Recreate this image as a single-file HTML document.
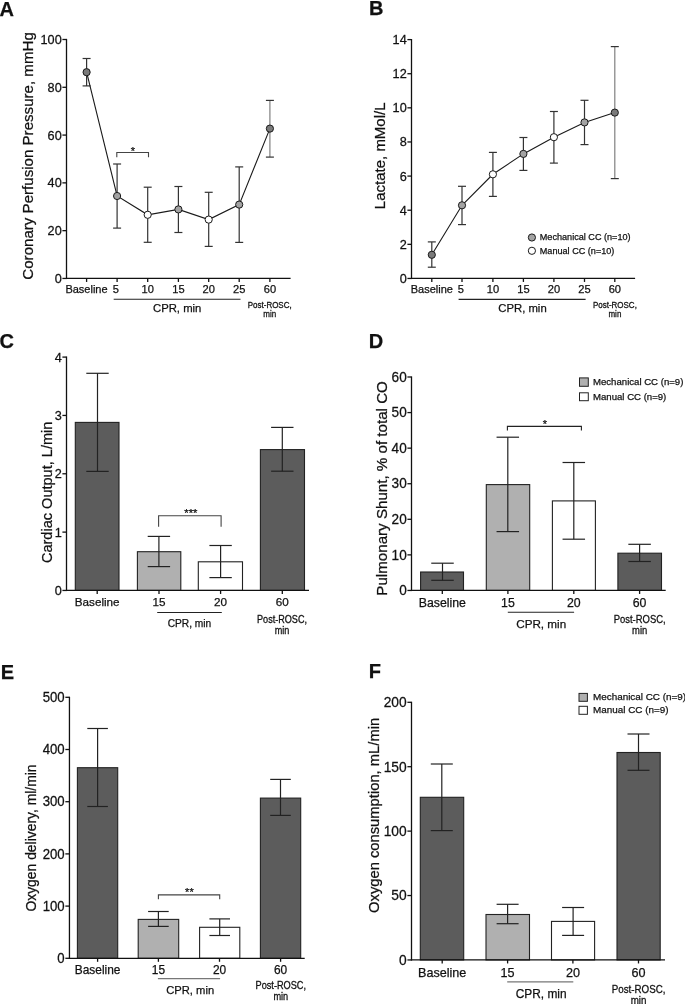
<!DOCTYPE html>
<html><head><meta charset="utf-8"><style>
html,body{margin:0;padding:0;background:#fff;}
body{width:685px;height:1004px;overflow:hidden;}
svg{display:block;will-change:transform;}
text{font-family:"Liberation Sans", sans-serif;fill:#111;stroke:#111;stroke-width:0.25px;}
</style></head><body>
<svg width="685" height="1004" viewBox="0 0 685 1004">
<rect width="685" height="1004" fill="#fff"/>
<text x="-0.50" y="15.80" font-size="20" text-anchor="start" font-weight="bold">A</text>
<line x1="66.50" y1="38.90" x2="66.50" y2="279.05" stroke="#111" stroke-width="1.3"/>
<line x1="62.40" y1="278.45" x2="66.50" y2="278.45" stroke="#111" stroke-width="1.3"/>
<text transform="translate(61.70 282.89) scale(1 1.05)" font-size="12.7" text-anchor="end">0</text>
<line x1="62.40" y1="230.66" x2="66.50" y2="230.66" stroke="#111" stroke-width="1.3"/>
<text transform="translate(61.70 235.10) scale(1 1.05)" font-size="12.7" text-anchor="end">20</text>
<line x1="62.40" y1="182.87" x2="66.50" y2="182.87" stroke="#111" stroke-width="1.3"/>
<text transform="translate(61.70 187.31) scale(1 1.05)" font-size="12.7" text-anchor="end">40</text>
<line x1="62.40" y1="135.08" x2="66.50" y2="135.08" stroke="#111" stroke-width="1.3"/>
<text transform="translate(61.70 139.52) scale(1 1.05)" font-size="12.7" text-anchor="end">60</text>
<line x1="62.40" y1="87.29" x2="66.50" y2="87.29" stroke="#111" stroke-width="1.3"/>
<text transform="translate(61.70 91.73) scale(1 1.05)" font-size="12.7" text-anchor="end">80</text>
<line x1="62.40" y1="39.50" x2="66.50" y2="39.50" stroke="#111" stroke-width="1.3"/>
<text transform="translate(61.70 43.95) scale(1 1.05)" font-size="12.7" text-anchor="end">100</text>
<line x1="65.90" y1="278.45" x2="290.60" y2="278.45" stroke="#111" stroke-width="1.3"/>
<line x1="86.60" y1="278.45" x2="86.60" y2="281.95" stroke="#111" stroke-width="1.3"/>
<line x1="117.10" y1="278.45" x2="117.10" y2="281.95" stroke="#111" stroke-width="1.3"/>
<line x1="147.70" y1="278.45" x2="147.70" y2="281.95" stroke="#111" stroke-width="1.3"/>
<line x1="178.40" y1="278.45" x2="178.40" y2="281.95" stroke="#111" stroke-width="1.3"/>
<line x1="208.70" y1="278.45" x2="208.70" y2="281.95" stroke="#111" stroke-width="1.3"/>
<line x1="239.20" y1="278.45" x2="239.20" y2="281.95" stroke="#111" stroke-width="1.3"/>
<line x1="269.90" y1="278.45" x2="269.90" y2="281.95" stroke="#111" stroke-width="1.3"/>
<line x1="86.60" y1="58.50" x2="86.60" y2="85.90" stroke="#333" stroke-width="1.2"/>
<line x1="82.60" y1="58.50" x2="90.60" y2="58.50" stroke="#333" stroke-width="1.2"/>
<line x1="82.60" y1="85.90" x2="90.60" y2="85.90" stroke="#333" stroke-width="1.2"/>
<line x1="117.10" y1="164.00" x2="117.10" y2="228.10" stroke="#333" stroke-width="1.2"/>
<line x1="113.10" y1="164.00" x2="121.10" y2="164.00" stroke="#333" stroke-width="1.2"/>
<line x1="113.10" y1="228.10" x2="121.10" y2="228.10" stroke="#333" stroke-width="1.2"/>
<line x1="147.70" y1="187.20" x2="147.70" y2="242.30" stroke="#333" stroke-width="1.2"/>
<line x1="143.70" y1="187.20" x2="151.70" y2="187.20" stroke="#333" stroke-width="1.2"/>
<line x1="143.70" y1="242.30" x2="151.70" y2="242.30" stroke="#333" stroke-width="1.2"/>
<line x1="178.40" y1="186.50" x2="178.40" y2="232.50" stroke="#333" stroke-width="1.2"/>
<line x1="174.40" y1="186.50" x2="182.40" y2="186.50" stroke="#333" stroke-width="1.2"/>
<line x1="174.40" y1="232.50" x2="182.40" y2="232.50" stroke="#333" stroke-width="1.2"/>
<line x1="208.70" y1="192.30" x2="208.70" y2="246.40" stroke="#333" stroke-width="1.2"/>
<line x1="204.70" y1="192.30" x2="212.70" y2="192.30" stroke="#333" stroke-width="1.2"/>
<line x1="204.70" y1="246.40" x2="212.70" y2="246.40" stroke="#333" stroke-width="1.2"/>
<line x1="239.20" y1="166.90" x2="239.20" y2="242.40" stroke="#333" stroke-width="1.2"/>
<line x1="235.20" y1="166.90" x2="243.20" y2="166.90" stroke="#333" stroke-width="1.2"/>
<line x1="235.20" y1="242.40" x2="243.20" y2="242.40" stroke="#333" stroke-width="1.2"/>
<line x1="269.90" y1="100.40" x2="269.90" y2="157.10" stroke="#808080" stroke-width="1.2"/>
<line x1="265.90" y1="100.40" x2="273.90" y2="100.40" stroke="#333" stroke-width="1.2"/>
<line x1="265.90" y1="157.10" x2="273.90" y2="157.10" stroke="#333" stroke-width="1.2"/>
<polyline points="86.60,72.20 117.10,196.00 147.70,214.80 178.40,209.40 208.70,219.60 239.20,204.60 269.90,128.60" fill="none" stroke="#1a1a1a" stroke-width="1.1"/>
<circle cx="86.60" cy="72.20" r="3.6" fill="#7a7a7a" stroke="#1a1a1a" stroke-width="1"/>
<circle cx="117.10" cy="196.00" r="3.6" fill="#a3a3a3" stroke="#1a1a1a" stroke-width="1"/>
<circle cx="147.70" cy="214.80" r="3.6" fill="#fff" stroke="#1a1a1a" stroke-width="1"/>
<circle cx="178.40" cy="209.40" r="3.6" fill="#a3a3a3" stroke="#1a1a1a" stroke-width="1"/>
<circle cx="208.70" cy="219.60" r="3.6" fill="#fff" stroke="#1a1a1a" stroke-width="1"/>
<circle cx="239.20" cy="204.60" r="3.6" fill="#a3a3a3" stroke="#1a1a1a" stroke-width="1"/>
<circle cx="269.90" cy="128.60" r="3.6" fill="#7a7a7a" stroke="#1a1a1a" stroke-width="1"/>
<polyline points="116.80,157.30 116.80,152.50 148.50,152.50 148.50,157.30" fill="none" stroke="#444" stroke-width="1.1"/>
<text x="132.80" y="154.50" font-size="11" text-anchor="middle">*</text>
<text x="86.50" y="292.90" font-size="11" text-anchor="middle">Baseline</text>
<text x="115.90" y="292.90" font-size="11.1" text-anchor="middle">5</text>
<text x="147.70" y="292.90" font-size="11.1" text-anchor="middle">10</text>
<text x="178.40" y="292.90" font-size="11.1" text-anchor="middle">15</text>
<text x="208.70" y="292.90" font-size="11.1" text-anchor="middle">20</text>
<text x="239.20" y="292.90" font-size="11.1" text-anchor="middle">25</text>
<text x="269.90" y="292.90" font-size="11.1" text-anchor="middle">60</text>
<line x1="113.70" y1="299.20" x2="240.50" y2="299.20" stroke="#222" stroke-width="1.1"/>
<text x="177.20" y="311.60" font-size="11.3" text-anchor="middle">CPR, min</text>
<text transform="translate(269.70 308.30) scale(1 1.13)" font-size="8" text-anchor="middle">Post-ROSC,</text>
<text transform="translate(269.70 316.90) scale(1 1.13)" font-size="8" text-anchor="middle">min</text>
<text transform="translate(33.00 155.95) rotate(-90)" font-size="15.1" text-anchor="middle">Coronary Perfusion Pressure, mmHg</text>
<text x="369.00" y="14.80" font-size="20" text-anchor="start" font-weight="bold">B</text>
<line x1="411.50" y1="39.00" x2="411.50" y2="279.05" stroke="#111" stroke-width="1.3"/>
<line x1="407.40" y1="278.45" x2="411.50" y2="278.45" stroke="#111" stroke-width="1.3"/>
<text transform="translate(406.70 282.89) scale(1 1.05)" font-size="12.7" text-anchor="end">0</text>
<line x1="407.40" y1="244.33" x2="411.50" y2="244.33" stroke="#111" stroke-width="1.3"/>
<text transform="translate(406.70 248.77) scale(1 1.05)" font-size="12.7" text-anchor="end">2</text>
<line x1="407.40" y1="210.21" x2="411.50" y2="210.21" stroke="#111" stroke-width="1.3"/>
<text transform="translate(406.70 214.65) scale(1 1.05)" font-size="12.7" text-anchor="end">4</text>
<line x1="407.40" y1="176.09" x2="411.50" y2="176.09" stroke="#111" stroke-width="1.3"/>
<text transform="translate(406.70 180.53) scale(1 1.05)" font-size="12.7" text-anchor="end">6</text>
<line x1="407.40" y1="141.96" x2="411.50" y2="141.96" stroke="#111" stroke-width="1.3"/>
<text transform="translate(406.70 146.41) scale(1 1.05)" font-size="12.7" text-anchor="end">8</text>
<line x1="407.40" y1="107.84" x2="411.50" y2="107.84" stroke="#111" stroke-width="1.3"/>
<text transform="translate(406.70 112.29) scale(1 1.05)" font-size="12.7" text-anchor="end">10</text>
<line x1="407.40" y1="73.72" x2="411.50" y2="73.72" stroke="#111" stroke-width="1.3"/>
<text transform="translate(406.70 78.17) scale(1 1.05)" font-size="12.7" text-anchor="end">12</text>
<line x1="407.40" y1="39.60" x2="411.50" y2="39.60" stroke="#111" stroke-width="1.3"/>
<text transform="translate(406.70 44.04) scale(1 1.05)" font-size="12.7" text-anchor="end">14</text>
<line x1="410.90" y1="278.45" x2="635.10" y2="278.45" stroke="#111" stroke-width="1.3"/>
<line x1="431.80" y1="278.45" x2="431.80" y2="281.95" stroke="#111" stroke-width="1.3"/>
<line x1="462.00" y1="278.45" x2="462.00" y2="281.95" stroke="#111" stroke-width="1.3"/>
<line x1="492.90" y1="278.45" x2="492.90" y2="281.95" stroke="#111" stroke-width="1.3"/>
<line x1="523.40" y1="278.45" x2="523.40" y2="281.95" stroke="#111" stroke-width="1.3"/>
<line x1="553.90" y1="278.45" x2="553.90" y2="281.95" stroke="#111" stroke-width="1.3"/>
<line x1="584.50" y1="278.45" x2="584.50" y2="281.95" stroke="#111" stroke-width="1.3"/>
<line x1="614.80" y1="278.45" x2="614.80" y2="281.95" stroke="#111" stroke-width="1.3"/>
<line x1="431.80" y1="241.90" x2="431.80" y2="267.20" stroke="#333" stroke-width="1.2"/>
<line x1="427.80" y1="241.90" x2="435.80" y2="241.90" stroke="#333" stroke-width="1.2"/>
<line x1="427.80" y1="267.20" x2="435.80" y2="267.20" stroke="#333" stroke-width="1.2"/>
<line x1="462.00" y1="186.30" x2="462.00" y2="224.60" stroke="#333" stroke-width="1.2"/>
<line x1="458.00" y1="186.30" x2="466.00" y2="186.30" stroke="#333" stroke-width="1.2"/>
<line x1="458.00" y1="224.60" x2="466.00" y2="224.60" stroke="#333" stroke-width="1.2"/>
<line x1="492.90" y1="152.40" x2="492.90" y2="196.40" stroke="#333" stroke-width="1.2"/>
<line x1="488.90" y1="152.40" x2="496.90" y2="152.40" stroke="#333" stroke-width="1.2"/>
<line x1="488.90" y1="196.40" x2="496.90" y2="196.40" stroke="#333" stroke-width="1.2"/>
<line x1="523.40" y1="137.50" x2="523.40" y2="170.40" stroke="#333" stroke-width="1.2"/>
<line x1="519.40" y1="137.50" x2="527.40" y2="137.50" stroke="#333" stroke-width="1.2"/>
<line x1="519.40" y1="170.40" x2="527.40" y2="170.40" stroke="#333" stroke-width="1.2"/>
<line x1="553.90" y1="111.50" x2="553.90" y2="163.10" stroke="#333" stroke-width="1.2"/>
<line x1="549.90" y1="111.50" x2="557.90" y2="111.50" stroke="#333" stroke-width="1.2"/>
<line x1="549.90" y1="163.10" x2="557.90" y2="163.10" stroke="#333" stroke-width="1.2"/>
<line x1="584.50" y1="100.30" x2="584.50" y2="144.60" stroke="#333" stroke-width="1.2"/>
<line x1="580.50" y1="100.30" x2="588.50" y2="100.30" stroke="#333" stroke-width="1.2"/>
<line x1="580.50" y1="144.60" x2="588.50" y2="144.60" stroke="#333" stroke-width="1.2"/>
<line x1="614.80" y1="46.60" x2="614.80" y2="178.60" stroke="#808080" stroke-width="1.2"/>
<line x1="610.80" y1="46.60" x2="618.80" y2="46.60" stroke="#333" stroke-width="1.2"/>
<line x1="610.80" y1="178.60" x2="618.80" y2="178.60" stroke="#333" stroke-width="1.2"/>
<polyline points="431.80,254.80 462.00,205.30 492.90,174.30 523.40,153.90 553.90,137.20 584.50,122.40 614.80,112.60" fill="none" stroke="#1a1a1a" stroke-width="1.1"/>
<circle cx="431.80" cy="254.80" r="3.6" fill="#7a7a7a" stroke="#1a1a1a" stroke-width="1"/>
<circle cx="462.00" cy="205.30" r="3.6" fill="#a3a3a3" stroke="#1a1a1a" stroke-width="1"/>
<circle cx="492.90" cy="174.30" r="3.6" fill="#fff" stroke="#1a1a1a" stroke-width="1"/>
<circle cx="523.40" cy="153.90" r="3.6" fill="#a3a3a3" stroke="#1a1a1a" stroke-width="1"/>
<circle cx="553.90" cy="137.20" r="3.6" fill="#fff" stroke="#1a1a1a" stroke-width="1"/>
<circle cx="584.50" cy="122.40" r="3.6" fill="#a3a3a3" stroke="#1a1a1a" stroke-width="1"/>
<circle cx="614.80" cy="112.60" r="3.6" fill="#7a7a7a" stroke="#1a1a1a" stroke-width="1"/>
<text x="431.80" y="292.90" font-size="11" text-anchor="middle">Baseline</text>
<text x="460.80" y="292.90" font-size="11.1" text-anchor="middle">5</text>
<text x="492.90" y="292.90" font-size="11.1" text-anchor="middle">10</text>
<text x="523.40" y="292.90" font-size="11.1" text-anchor="middle">15</text>
<text x="553.90" y="292.90" font-size="11.1" text-anchor="middle">20</text>
<text x="584.50" y="292.90" font-size="11.1" text-anchor="middle">25</text>
<text x="614.80" y="292.90" font-size="11.1" text-anchor="middle">60</text>
<line x1="458.60" y1="299.40" x2="585.60" y2="299.40" stroke="#222" stroke-width="1.1"/>
<text x="522.50" y="311.80" font-size="11.3" text-anchor="middle">CPR, min</text>
<text transform="translate(614.90 308.30) scale(1 1.13)" font-size="8" text-anchor="middle">Post-ROSC,</text>
<text transform="translate(614.90 316.90) scale(1 1.13)" font-size="8" text-anchor="middle">min</text>
<circle cx="531.90" cy="237.50" r="3.6" fill="#a3a3a3" stroke="#1a1a1a" stroke-width="1"/>
<circle cx="531.90" cy="250.80" r="3.6" fill="#fff" stroke="#1a1a1a" stroke-width="1"/>
<text x="539.80" y="240.20" font-size="9.1" text-anchor="start">Mechanical CC (n=10)</text>
<text x="539.80" y="253.50" font-size="9.1" text-anchor="start">Manual CC (n=10)</text>
<text transform="translate(384.90 155.80) rotate(-90)" font-size="15" text-anchor="middle">Lactate, mMol/L</text>
<text x="-0.50" y="348.00" font-size="20" text-anchor="start" font-weight="bold">C</text>
<rect x="75.30" y="422.40" width="43.70" height="168.05" fill="#5c5c5c" stroke="#222" stroke-width="1.1"/>
<rect x="137.40" y="551.70" width="43.40" height="38.75" fill="#b0b0b0" stroke="#222" stroke-width="1.1"/>
<rect x="198.30" y="561.80" width="44.20" height="28.65" fill="#fff" stroke="#222" stroke-width="1.1"/>
<rect x="260.40" y="449.60" width="44.10" height="140.85" fill="#5c5c5c" stroke="#222" stroke-width="1.1"/>
<line x1="97.50" y1="373.30" x2="97.50" y2="471.40" stroke="#222" stroke-width="1.2"/>
<line x1="86.30" y1="373.30" x2="108.70" y2="373.30" stroke="#222" stroke-width="1.2"/>
<line x1="86.30" y1="471.40" x2="108.70" y2="471.40" stroke="#222" stroke-width="1.2"/>
<line x1="158.90" y1="536.40" x2="158.90" y2="566.60" stroke="#222" stroke-width="1.2"/>
<line x1="147.70" y1="536.40" x2="170.10" y2="536.40" stroke="#222" stroke-width="1.2"/>
<line x1="147.70" y1="566.60" x2="170.10" y2="566.60" stroke="#222" stroke-width="1.2"/>
<line x1="220.60" y1="545.50" x2="220.60" y2="577.60" stroke="#222" stroke-width="1.2"/>
<line x1="209.40" y1="545.50" x2="231.80" y2="545.50" stroke="#222" stroke-width="1.2"/>
<line x1="209.40" y1="577.60" x2="231.80" y2="577.60" stroke="#222" stroke-width="1.2"/>
<line x1="282.30" y1="427.40" x2="282.30" y2="471.20" stroke="#222" stroke-width="1.2"/>
<line x1="271.10" y1="427.40" x2="293.50" y2="427.40" stroke="#222" stroke-width="1.2"/>
<line x1="271.10" y1="471.20" x2="293.50" y2="471.20" stroke="#222" stroke-width="1.2"/>
<line x1="66.50" y1="356.50" x2="66.50" y2="591.05" stroke="#111" stroke-width="1.3"/>
<line x1="62.40" y1="590.45" x2="66.50" y2="590.45" stroke="#111" stroke-width="1.3"/>
<text transform="translate(61.70 594.90) scale(1 1.05)" font-size="12.7" text-anchor="end">0</text>
<line x1="62.40" y1="532.11" x2="66.50" y2="532.11" stroke="#111" stroke-width="1.3"/>
<text transform="translate(61.70 536.56) scale(1 1.05)" font-size="12.7" text-anchor="end">1</text>
<line x1="62.40" y1="473.78" x2="66.50" y2="473.78" stroke="#111" stroke-width="1.3"/>
<text transform="translate(61.70 478.22) scale(1 1.05)" font-size="12.7" text-anchor="end">2</text>
<line x1="62.40" y1="415.44" x2="66.50" y2="415.44" stroke="#111" stroke-width="1.3"/>
<text transform="translate(61.70 419.88) scale(1 1.05)" font-size="12.7" text-anchor="end">3</text>
<line x1="62.40" y1="357.10" x2="66.50" y2="357.10" stroke="#111" stroke-width="1.3"/>
<text transform="translate(61.70 361.55) scale(1 1.05)" font-size="12.7" text-anchor="end">4</text>
<line x1="65.90" y1="590.45" x2="309.00" y2="590.45" stroke="#111" stroke-width="1.3"/>
<line x1="97.20" y1="590.45" x2="97.20" y2="593.95" stroke="#111" stroke-width="1.3"/>
<line x1="159.00" y1="590.45" x2="159.00" y2="593.95" stroke="#111" stroke-width="1.3"/>
<line x1="220.60" y1="590.45" x2="220.60" y2="593.95" stroke="#111" stroke-width="1.3"/>
<line x1="282.30" y1="590.45" x2="282.30" y2="593.95" stroke="#111" stroke-width="1.3"/>
<polyline points="158.60,526.80 158.60,515.80 221.10,515.80 221.10,526.80" fill="none" stroke="#444" stroke-width="1.1"/>
<text x="190.90" y="516.90" font-size="11.3" text-anchor="middle">***</text>
<text x="97.20" y="606.40" font-size="11.7" text-anchor="middle">Baseline</text>
<text x="159.00" y="606.40" font-size="11.7" text-anchor="middle">15</text>
<text x="220.60" y="606.40" font-size="11.7" text-anchor="middle">20</text>
<text x="282.30" y="606.40" font-size="11.7" text-anchor="middle">60</text>
<line x1="157.20" y1="612.50" x2="221.80" y2="612.50" stroke="#222" stroke-width="1.1"/>
<text x="189.50" y="626.60" font-size="10.2" text-anchor="middle">CPR, min</text>
<text transform="translate(282.00 623.40) scale(1 1.13)" font-size="9.1" text-anchor="middle">Post-ROSC,</text>
<text transform="translate(282.00 633.80) scale(1 1.13)" font-size="9.1" text-anchor="middle">min</text>
<text transform="translate(51.60 492.35) rotate(-90)" font-size="14.56" text-anchor="middle">Cardiac Output, L/min</text>
<text x="368.80" y="347.80" font-size="20" text-anchor="start" font-weight="bold">D</text>
<rect x="420.60" y="572.00" width="42.90" height="18.45" fill="#5c5c5c" stroke="#222" stroke-width="1.1"/>
<rect x="486.30" y="484.60" width="43.40" height="105.85" fill="#b0b0b0" stroke="#222" stroke-width="1.1"/>
<rect x="552.40" y="500.90" width="43.00" height="89.55" fill="#fff" stroke="#222" stroke-width="1.1"/>
<rect x="617.90" y="553.20" width="43.60" height="37.25" fill="#5c5c5c" stroke="#222" stroke-width="1.1"/>
<line x1="442.50" y1="563.20" x2="442.50" y2="580.30" stroke="#222" stroke-width="1.2"/>
<line x1="431.25" y1="563.20" x2="453.75" y2="563.20" stroke="#222" stroke-width="1.2"/>
<line x1="431.25" y1="580.30" x2="453.75" y2="580.30" stroke="#222" stroke-width="1.2"/>
<line x1="507.80" y1="437.20" x2="507.80" y2="531.60" stroke="#222" stroke-width="1.2"/>
<line x1="496.55" y1="437.20" x2="519.05" y2="437.20" stroke="#222" stroke-width="1.2"/>
<line x1="496.55" y1="531.60" x2="519.05" y2="531.60" stroke="#222" stroke-width="1.2"/>
<line x1="573.80" y1="462.50" x2="573.80" y2="539.20" stroke="#222" stroke-width="1.2"/>
<line x1="562.55" y1="462.50" x2="585.05" y2="462.50" stroke="#222" stroke-width="1.2"/>
<line x1="562.55" y1="539.20" x2="585.05" y2="539.20" stroke="#222" stroke-width="1.2"/>
<line x1="639.60" y1="544.30" x2="639.60" y2="561.50" stroke="#222" stroke-width="1.2"/>
<line x1="628.35" y1="544.30" x2="650.85" y2="544.30" stroke="#222" stroke-width="1.2"/>
<line x1="628.35" y1="561.50" x2="650.85" y2="561.50" stroke="#222" stroke-width="1.2"/>
<line x1="411.50" y1="376.40" x2="411.50" y2="591.05" stroke="#111" stroke-width="1.3"/>
<line x1="407.40" y1="590.45" x2="411.50" y2="590.45" stroke="#111" stroke-width="1.3"/>
<text transform="translate(406.70 595.21) scale(1 1.05)" font-size="13.6" text-anchor="end">0</text>
<line x1="407.40" y1="554.88" x2="411.50" y2="554.88" stroke="#111" stroke-width="1.3"/>
<text transform="translate(406.70 559.63) scale(1 1.05)" font-size="13.6" text-anchor="end">10</text>
<line x1="407.40" y1="519.30" x2="411.50" y2="519.30" stroke="#111" stroke-width="1.3"/>
<text transform="translate(406.70 524.06) scale(1 1.05)" font-size="13.6" text-anchor="end">20</text>
<line x1="407.40" y1="483.73" x2="411.50" y2="483.73" stroke="#111" stroke-width="1.3"/>
<text transform="translate(406.70 488.49) scale(1 1.05)" font-size="13.6" text-anchor="end">30</text>
<line x1="407.40" y1="448.15" x2="411.50" y2="448.15" stroke="#111" stroke-width="1.3"/>
<text transform="translate(406.70 452.91) scale(1 1.05)" font-size="13.6" text-anchor="end">40</text>
<line x1="407.40" y1="412.58" x2="411.50" y2="412.58" stroke="#111" stroke-width="1.3"/>
<text transform="translate(406.70 417.34) scale(1 1.05)" font-size="13.6" text-anchor="end">50</text>
<line x1="407.40" y1="377.00" x2="411.50" y2="377.00" stroke="#111" stroke-width="1.3"/>
<text transform="translate(406.70 381.76) scale(1 1.05)" font-size="13.6" text-anchor="end">60</text>
<line x1="410.90" y1="590.45" x2="665.70" y2="590.45" stroke="#111" stroke-width="1.3"/>
<line x1="442.30" y1="590.45" x2="442.30" y2="593.95" stroke="#111" stroke-width="1.3"/>
<line x1="507.90" y1="590.45" x2="507.90" y2="593.95" stroke="#111" stroke-width="1.3"/>
<line x1="573.80" y1="590.45" x2="573.80" y2="593.95" stroke="#111" stroke-width="1.3"/>
<line x1="639.60" y1="590.45" x2="639.60" y2="593.95" stroke="#111" stroke-width="1.3"/>
<polyline points="507.40,430.60 507.40,426.40 581.40,426.40 581.40,430.60" fill="none" stroke="#222" stroke-width="1.1"/>
<text x="545.00" y="427.70" font-size="11" text-anchor="middle">*</text>
<text x="442.30" y="606.90" font-size="12.3" text-anchor="middle">Baseline</text>
<text x="507.90" y="606.90" font-size="12.3" text-anchor="middle">15</text>
<text x="573.80" y="606.90" font-size="12.3" text-anchor="middle">20</text>
<text x="639.60" y="606.90" font-size="12.3" text-anchor="middle">60</text>
<line x1="507.80" y1="612.30" x2="574.10" y2="612.30" stroke="#222" stroke-width="1.1"/>
<text x="541.20" y="627.60" font-size="11.7" text-anchor="middle">CPR, min</text>
<text transform="translate(639.70 622.80) scale(1 1.13)" font-size="9.45" text-anchor="middle">Post-ROSC,</text>
<text transform="translate(639.70 634.30) scale(1 1.13)" font-size="9.45" text-anchor="middle">min</text>
<rect x="579.50" y="377.90" width="8.80" height="8.40" fill="#b0b0b0" stroke="#222" stroke-width="1"/>
<rect x="579.50" y="392.80" width="8.80" height="7.90" fill="#fff" stroke="#222" stroke-width="1"/>
<text x="593.00" y="385.40" font-size="9.6" text-anchor="start">Mechanical CC (n=9)</text>
<text x="593.00" y="400.20" font-size="9.6" text-anchor="start">Manual CC (n=9)</text>
<text transform="translate(387.20 488.40) rotate(-90)" font-size="15.15" text-anchor="middle">Pulmonary Shunt, % of total CO</text>
<text x="0.80" y="678.50" font-size="20" text-anchor="start" font-weight="bold">E</text>
<rect x="77.40" y="767.70" width="40.30" height="190.60" fill="#5c5c5c" stroke="#222" stroke-width="1.1"/>
<rect x="138.20" y="919.40" width="40.50" height="38.90" fill="#b0b0b0" stroke="#222" stroke-width="1.1"/>
<rect x="199.60" y="927.30" width="40.20" height="31.00" fill="#fff" stroke="#222" stroke-width="1.1"/>
<rect x="260.40" y="798.10" width="40.30" height="160.20" fill="#5c5c5c" stroke="#222" stroke-width="1.1"/>
<line x1="97.60" y1="728.50" x2="97.60" y2="806.50" stroke="#222" stroke-width="1.2"/>
<line x1="87.30" y1="728.50" x2="107.90" y2="728.50" stroke="#222" stroke-width="1.2"/>
<line x1="87.30" y1="806.50" x2="107.90" y2="806.50" stroke="#222" stroke-width="1.2"/>
<line x1="158.40" y1="911.50" x2="158.40" y2="926.40" stroke="#222" stroke-width="1.2"/>
<line x1="148.10" y1="911.50" x2="168.70" y2="911.50" stroke="#222" stroke-width="1.2"/>
<line x1="148.10" y1="926.40" x2="168.70" y2="926.40" stroke="#222" stroke-width="1.2"/>
<line x1="219.70" y1="918.90" x2="219.70" y2="935.50" stroke="#222" stroke-width="1.2"/>
<line x1="209.40" y1="918.90" x2="230.00" y2="918.90" stroke="#222" stroke-width="1.2"/>
<line x1="209.40" y1="935.50" x2="230.00" y2="935.50" stroke="#222" stroke-width="1.2"/>
<line x1="280.50" y1="779.40" x2="280.50" y2="815.40" stroke="#222" stroke-width="1.2"/>
<line x1="270.20" y1="779.40" x2="290.80" y2="779.40" stroke="#222" stroke-width="1.2"/>
<line x1="270.20" y1="815.40" x2="290.80" y2="815.40" stroke="#222" stroke-width="1.2"/>
<line x1="69.45" y1="696.70" x2="69.45" y2="958.90" stroke="#111" stroke-width="1.3"/>
<line x1="65.35" y1="958.30" x2="69.45" y2="958.30" stroke="#111" stroke-width="1.3"/>
<text transform="translate(64.65 962.92) scale(1 1.05)" font-size="13.2" text-anchor="end">0</text>
<line x1="65.35" y1="906.10" x2="69.45" y2="906.10" stroke="#111" stroke-width="1.3"/>
<text transform="translate(64.65 910.72) scale(1 1.05)" font-size="13.2" text-anchor="end">100</text>
<line x1="65.35" y1="853.90" x2="69.45" y2="853.90" stroke="#111" stroke-width="1.3"/>
<text transform="translate(64.65 858.52) scale(1 1.05)" font-size="13.2" text-anchor="end">200</text>
<line x1="65.35" y1="801.70" x2="69.45" y2="801.70" stroke="#111" stroke-width="1.3"/>
<text transform="translate(64.65 806.32) scale(1 1.05)" font-size="13.2" text-anchor="end">300</text>
<line x1="65.35" y1="749.50" x2="69.45" y2="749.50" stroke="#111" stroke-width="1.3"/>
<text transform="translate(64.65 754.12) scale(1 1.05)" font-size="13.2" text-anchor="end">400</text>
<line x1="65.35" y1="697.30" x2="69.45" y2="697.30" stroke="#111" stroke-width="1.3"/>
<text transform="translate(64.65 701.92) scale(1 1.05)" font-size="13.2" text-anchor="end">500</text>
<line x1="68.85" y1="958.30" x2="304.70" y2="958.30" stroke="#111" stroke-width="1.3"/>
<line x1="97.60" y1="958.30" x2="97.60" y2="961.80" stroke="#111" stroke-width="1.3"/>
<line x1="158.40" y1="958.30" x2="158.40" y2="961.80" stroke="#111" stroke-width="1.3"/>
<line x1="219.50" y1="958.30" x2="219.50" y2="961.80" stroke="#111" stroke-width="1.3"/>
<line x1="280.60" y1="958.30" x2="280.60" y2="961.80" stroke="#111" stroke-width="1.3"/>
<polyline points="158.40,899.30 158.40,894.90 219.70,894.90 219.70,899.30" fill="none" stroke="#444" stroke-width="1.1"/>
<text x="189.40" y="895.70" font-size="11" text-anchor="middle">**</text>
<text x="97.60" y="974.40" font-size="11.9" text-anchor="middle">Baseline</text>
<text x="158.40" y="974.40" font-size="11.9" text-anchor="middle">15</text>
<text x="219.50" y="974.40" font-size="11.9" text-anchor="middle">20</text>
<text x="280.60" y="974.40" font-size="11.9" text-anchor="middle">60</text>
<line x1="157.90" y1="978.60" x2="220.10" y2="978.60" stroke="#777" stroke-width="1.3"/>
<text x="190.20" y="994.10" font-size="11.2" text-anchor="middle">CPR, min</text>
<text transform="translate(280.80 989.40) scale(1 1.13)" font-size="9.2" text-anchor="middle">Post-ROSC,</text>
<text transform="translate(280.80 1000.10) scale(1 1.13)" font-size="9.2" text-anchor="middle">min</text>
<text transform="translate(36.40 838.00) rotate(-90)" font-size="13.9" text-anchor="middle">Oxygen delivery, ml/min</text>
<text x="368.80" y="678.10" font-size="20" text-anchor="start" font-weight="bold">F</text>
<rect x="420.30" y="797.30" width="43.40" height="162.65" fill="#5c5c5c" stroke="#222" stroke-width="1.1"/>
<rect x="486.00" y="914.50" width="43.50" height="45.45" fill="#b0b0b0" stroke="#222" stroke-width="1.1"/>
<rect x="551.50" y="921.40" width="43.10" height="38.55" fill="#fff" stroke="#222" stroke-width="1.1"/>
<rect x="617.00" y="752.50" width="43.20" height="207.45" fill="#5c5c5c" stroke="#222" stroke-width="1.1"/>
<line x1="441.80" y1="764.00" x2="441.80" y2="830.60" stroke="#222" stroke-width="1.2"/>
<line x1="430.80" y1="764.00" x2="452.80" y2="764.00" stroke="#222" stroke-width="1.2"/>
<line x1="430.80" y1="830.60" x2="452.80" y2="830.60" stroke="#222" stroke-width="1.2"/>
<line x1="507.60" y1="904.30" x2="507.60" y2="923.70" stroke="#222" stroke-width="1.2"/>
<line x1="496.60" y1="904.30" x2="518.60" y2="904.30" stroke="#222" stroke-width="1.2"/>
<line x1="496.60" y1="923.70" x2="518.60" y2="923.70" stroke="#222" stroke-width="1.2"/>
<line x1="573.10" y1="907.50" x2="573.10" y2="935.40" stroke="#222" stroke-width="1.2"/>
<line x1="562.10" y1="907.50" x2="584.10" y2="907.50" stroke="#222" stroke-width="1.2"/>
<line x1="562.10" y1="935.40" x2="584.10" y2="935.40" stroke="#222" stroke-width="1.2"/>
<line x1="638.50" y1="734.00" x2="638.50" y2="770.30" stroke="#222" stroke-width="1.2"/>
<line x1="627.50" y1="734.00" x2="649.50" y2="734.00" stroke="#222" stroke-width="1.2"/>
<line x1="627.50" y1="770.30" x2="649.50" y2="770.30" stroke="#222" stroke-width="1.2"/>
<line x1="411.50" y1="701.70" x2="411.50" y2="960.55" stroke="#111" stroke-width="1.3"/>
<line x1="407.40" y1="959.95" x2="411.50" y2="959.95" stroke="#111" stroke-width="1.3"/>
<text transform="translate(406.70 964.78) scale(1 1.05)" font-size="13.8" text-anchor="end">0</text>
<line x1="407.40" y1="895.54" x2="411.50" y2="895.54" stroke="#111" stroke-width="1.3"/>
<text transform="translate(406.70 900.37) scale(1 1.05)" font-size="13.8" text-anchor="end">50</text>
<line x1="407.40" y1="831.12" x2="411.50" y2="831.12" stroke="#111" stroke-width="1.3"/>
<text transform="translate(406.70 835.96) scale(1 1.05)" font-size="13.8" text-anchor="end">100</text>
<line x1="407.40" y1="766.71" x2="411.50" y2="766.71" stroke="#111" stroke-width="1.3"/>
<text transform="translate(406.70 771.54) scale(1 1.05)" font-size="13.8" text-anchor="end">150</text>
<line x1="407.40" y1="702.30" x2="411.50" y2="702.30" stroke="#111" stroke-width="1.3"/>
<text transform="translate(406.70 707.13) scale(1 1.05)" font-size="13.8" text-anchor="end">200</text>
<line x1="410.90" y1="959.95" x2="665.00" y2="959.95" stroke="#111" stroke-width="1.3"/>
<line x1="442.20" y1="959.95" x2="442.20" y2="963.45" stroke="#111" stroke-width="1.3"/>
<line x1="507.60" y1="959.95" x2="507.60" y2="963.45" stroke="#111" stroke-width="1.3"/>
<line x1="572.90" y1="959.95" x2="572.90" y2="963.45" stroke="#111" stroke-width="1.3"/>
<line x1="638.50" y1="959.95" x2="638.50" y2="963.45" stroke="#111" stroke-width="1.3"/>
<text x="442.20" y="976.50" font-size="12.6" text-anchor="middle">Baseline</text>
<text x="507.60" y="976.50" font-size="12.6" text-anchor="middle">15</text>
<text x="572.90" y="976.50" font-size="12.6" text-anchor="middle">20</text>
<text x="638.50" y="976.50" font-size="12.6" text-anchor="middle">60</text>
<line x1="507.20" y1="981.80" x2="573.30" y2="981.80" stroke="#777" stroke-width="1.3"/>
<text x="541.20" y="998.00" font-size="11.9" text-anchor="middle">CPR, min</text>
<text transform="translate(638.60 993.00) scale(1 1.13)" font-size="9.8" text-anchor="middle">Post-ROSC,</text>
<text transform="translate(638.60 1003.60) scale(1 1.13)" font-size="9.8" text-anchor="middle">min</text>
<rect x="579.00" y="693.40" width="8.40" height="7.90" fill="#b0b0b0" stroke="#222" stroke-width="1"/>
<rect x="579.00" y="706.30" width="8.40" height="8.00" fill="#fff" stroke="#222" stroke-width="1"/>
<text x="593.00" y="700.20" font-size="9.9" text-anchor="start">Mechanical CC (n=9)</text>
<text x="593.00" y="713.20" font-size="9.9" text-anchor="start">Manual CC (n=9)</text>
<text transform="translate(379.30 815.40) rotate(-90)" font-size="14.75" text-anchor="middle">Oxygen consumption, mL/min</text>
</svg>
</body></html>
